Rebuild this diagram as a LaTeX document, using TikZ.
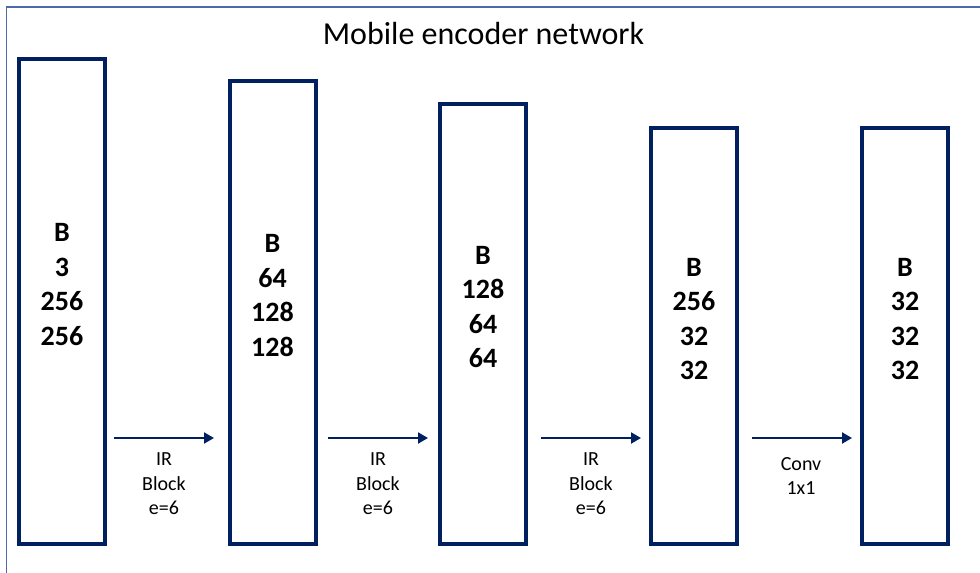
\documentclass[tikz,border=0pt]{standalone}
\usepackage{fontspec}
\setmainfont{Carlito}
\usetikzlibrary{arrows.meta}
\definecolor{navy}{HTML}{002060}
\definecolor{framec}{HTML}{4A6BA5}
\newcommand{\upx}{0.75pt}
\tikzset{
  layerbox/.style={draw=navy, line width=4*\upx, fill=none, inner sep=0pt,
    minimum width=86*\upx, rectangle},
  dims/.style={font=\fontsize{21pt}{25.9pt}\selectfont\bfseries, align=center, inner sep=0pt, text=black},
  oplabel/.style={font=\fontsize{15pt}{18.4pt}\selectfont, align=center, inner sep=0pt, text=black},
  flow/.style={draw=navy, line width=2*\upx, -{Triangle[length=10*\upx, width=11*\upx]}},
  titletext/.style={font=\fontsize{24pt}{28pt}\selectfont, inner sep=0pt, text=black, anchor=base}
}
\begin{document}
\begin{tikzpicture}[x=0.75pt, y=-0.75pt]
\clip (0,0) rectangle (980,573);
\draw[framec, line width=1.5*\upx] (6.5,7) rectangle (1000,600);

\node[titletext] (title) at (483.5,45) {Mobile encoder network};

\node[layerbox, minimum height=485*\upx] (b1) at (62,301.5) {};
\node[layerbox, minimum height=463*\upx] (b2) at (272.5,312.5) {};
\node[layerbox, minimum height=440*\upx] (b3) at (483,324) {};
\node[layerbox, minimum height=416*\upx] (b4) at (694,336) {};
\node[layerbox, minimum height=416*\upx] (b5) at (905,336) {};

\node[dims] (t1) at (62,284.5) {B\\3\\256\\256};
\node[dims] (t2) at (272.5,295.5) {B\\64\\128\\128};
\node[dims] (t3) at (483,307) {B\\128\\64\\64};
\node[dims] (t4) at (694,319) {B\\256\\32\\32};
\node[dims] (t5) at (905,319) {B\\32\\32\\32};

\coordinate (a1s) at (114,438);
\coordinate (a1e) at (214,438);
\coordinate (a2s) at (328,438);
\coordinate (a2e) at (428,438);
\coordinate (a3s) at (541,438);
\coordinate (a3e) at (641,438);
\coordinate (a4s) at (752,438);
\coordinate (a4e) at (852,438);

\draw[flow] (a1s) -- (a1e);
\draw[flow] (a2s) -- (a2e);
\draw[flow] (a3s) -- (a3e);
\draw[flow] (a4s) -- (a4e);

\node[oplabel] (l1) at (164,484) {IR\\Block\\e=6};
\node[oplabel] (l2) at (378,484) {IR\\Block\\e=6};
\node[oplabel] (l3) at (591,484) {IR\\Block\\e=6};
\node[oplabel] (l4) at (801,476) {Conv\\1x1};
\end{tikzpicture}
\end{document}
